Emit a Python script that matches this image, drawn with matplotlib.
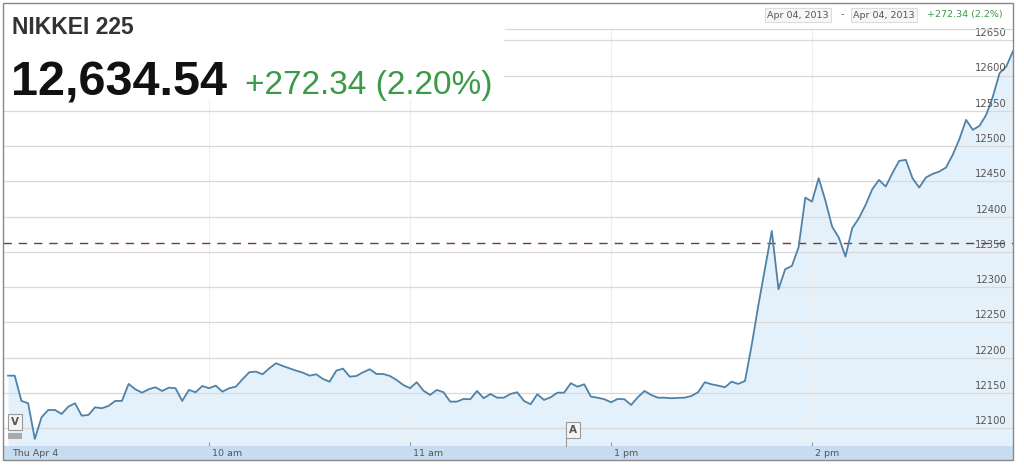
import matplotlib
matplotlib.use("Agg")
import matplotlib.pyplot as plt
from matplotlib.patches import Rectangle
import matplotlib.transforms as mtransforms

# ---------------- data ----------------
index_name = "NIKKEI 225"
last_value = "12,634.54"
change_text = "+272.34 (2.20%)"
range_start = "Apr 04, 2013"
range_end = "Apr 04, 2013"
range_change = "+272.34 (2.2%)"
prev_close = 12362.20

# 2-minute quotes, morning session 09:00-11:30 then afternoon 12:32-15:00
morning_times = [f"{9 + (m // 60):02d}:{m % 60:02d}" for m in range(0, 151, 2)]
afternoon_times = [f"{12 + ((30 + m) // 60):02d}:{(30 + m) % 60:02d}" for m in range(2, 151, 2)]
times = morning_times + afternoon_times

prices = [
    12174.5, 12174.5, 12138.7, 12135.4, 12084.8, 12115.5, 12125.9, 12125.9, 12120.2, 12130.6,
    12135.4, 12117.8, 12118.8, 12129.7, 12128.3, 12131.6, 12138.7, 12138.7, 12162.8, 12155.2,
    12150.4, 12155.2, 12158.1, 12152.8, 12157.5, 12156.7, 12138.7, 12154.3, 12151.0, 12159.9,
    12156.7, 12160.4, 12151.8, 12156.7, 12158.9, 12169.4, 12179.4, 12180.2, 12176.5, 12185.0,
    12192.1, 12188.3, 12185.0, 12181.6, 12178.8, 12174.5, 12176.5, 12169.9, 12166.0, 12181.6,
    12184.5, 12173.1, 12174.1, 12179.4, 12183.6, 12176.9, 12176.9, 12174.1, 12168.4, 12161.3,
    12156.7, 12165.2, 12153.3, 12147.2, 12154.3, 12151.0, 12137.7, 12137.7, 12141.5, 12141.1,
    12152.8, 12142.5, 12148.6, 12143.3, 12143.3, 12148.6,
    12151.0, 12138.7, 12134.0, 12148.2, 12140.1, 12143.9, 12150.4, 12150.4, 12163.8, 12158.9,
    12162.3, 12144.8, 12143.3, 12141.1, 12136.8, 12141.5, 12141.1, 12133.0, 12143.9, 12152.8,
    12147.2, 12143.3, 12143.3, 12142.5, 12143.0, 12143.3, 12145.7, 12151.0, 12165.2, 12162.3,
    12160.4, 12158.1, 12166.0, 12162.8, 12167.0, 12218.0, 12274.8, 12327.0, 12379.7, 12297.0,
    12325.4, 12330.1, 12356.6, 12427.0, 12421.3, 12454.5, 12422.7, 12385.9, 12370.2, 12343.3,
    12383.6, 12397.8, 12416.6, 12438.9, 12452.0, 12442.6, 12461.6, 12479.0, 12480.5, 12454.5,
    12441.2, 12455.4, 12460.6, 12463.9, 12469.6, 12487.6, 12509.9, 12537.2, 12523.0, 12528.7,
    12544.3, 12570.3, 12603.5, 12612.8, 12634.5,
]

x_tick_times = ["09:00", "10:00", "11:00", "13:00", "14:00"]
x_tick_labels = ["Thu Apr 4", "10 am", "11 am", "1 pm", "2 pm"]
y_ticks = [12100, 12150, 12200, 12250, 12300, 12350, 12400, 12450, 12500, 12550, 12600, 12650]


def trading_minute(t):
    h, m = map(int, t.split(":"))
    mins = (h - 9) * 60 + m
    if h >= 12:
        mins -= 60  # lunch break compressed
    return mins


xs = [trading_minute(t) for t in times]

# ---------------- figure ----------------
W, H = 1024, 465
fig = plt.figure(figsize=(W / 100, H / 100), dpi=100)
fig.patch.set_facecolor("white")


def fx(px):
    return px / W


def fy(py):
    return 1 - py / H


plot_top, plot_bot = 29, 446
left_px, right_px = 3, 1014
ax = fig.add_axes([fx(left_px), fy(plot_bot), fx(right_px - left_px), (plot_bot - plot_top) / H])
ax.set_xlim(-1.5, 300.3)
ax.set_ylim(12074.8, 12666)

ax.fill_between(xs, prices, 12000, color="#e4f1fb", lw=0, zorder=1)
ax.plot(xs, prices, color="#4f82a8", lw=1.3, zorder=4)
ax.axhline(prev_close, color="#7a3a3a", lw=1.0, dashes=(6, 5), zorder=3)

for yt in y_ticks:
    ax.axhline(yt, color="#d9d9d9", lw=0.9, zorder=2)
    ax.text(1007, 0, str(yt), transform=mtransforms.blended_transform_factory(
        fig.transFigure, ax.transData), x=fx(1007), y=yt,
        ha="right", va="bottom", fontsize=7.2, color="#555555",
        family="DejaVu Sans", zorder=5) if False else None
    ax.annotate(str(yt), xy=(fx(1007), yt), xycoords=("figure fraction", "data"),
                xytext=(0, 1.5), textcoords="offset points",
                ha="right", va="bottom", fontsize=7.2, color="#555555",
                family="DejaVu Sans", zorder=5)

tick_x = [trading_minute(t) for t in x_tick_times]
for tx in tick_x[1:]:
    ax.axvline(tx, color="#eeeeee", lw=0.8, zorder=1.5)
ax.set_xticks(tick_x[1:])
ax.set_xticklabels([])
ax.tick_params(axis="x", direction="in", length=3, color="#999999", width=0.8)
ax.set_yticks([])
for s in ax.spines.values():
    s.set_visible(False)
ax.patch.set_alpha(0)

# x-axis band
band = fig.add_axes([fx(left_px), fy(460), fx(right_px - left_px), 14 / H])
band.set_xlim(ax.get_xlim())
band.set_ylim(0, 1)
band.set_facecolor("#c7dcf1")
band.set_xticks([])
band.set_yticks([])
for s in band.spines.values():
    s.set_visible(False)
for tx, lab in zip(tick_x, x_tick_labels):
    band.text(tx + (1.2 if tx == 0 else 0.9), 0.45, lab, ha="left", va="center",
              fontsize=6.8, color="#555555", family="DejaVu Sans")

# white header area covering grid
fig.patches.append(Rectangle((fx(4), fy(100)), fx(500), 96 / H, transform=fig.transFigure,
                             facecolor="white", edgecolor="none", zorder=1))
# header strip line at top of plot
fig.add_artist(plt.Line2D([fx(505), fx(1013)], [fy(29), fy(29)], color="#d9d9d9", lw=0.9))

# outer frame
fig.add_artist(Rectangle((fx(3), fy(460)), fx(1010), 457 / H, transform=fig.transFigure,
                         facecolor="none", edgecolor="#888888", lw=1.0, zorder=6))

# titles
fig.text(fx(12), fy(27), index_name, ha="left", va="center", fontsize=16.5,
         fontweight="bold", color="#333333", family="Liberation Sans", zorder=7)
fig.text(fx(11), fy(95), last_value, ha="left", va="baseline", fontsize=35,
         fontweight="bold", color="#111111", family="Liberation Sans", zorder=7)
fig.text(fx(245), fy(94), change_text, ha="left", va="baseline", fontsize=24,
         color="#3a9a45", family="Liberation Sans", zorder=7)

# date range header
box = dict(boxstyle="square,pad=0.25", facecolor="#f7f7f7", edgecolor="#dddddd", lw=0.8)
fig.text(fx(767), fy(15), range_start, ha="left", va="center", fontsize=6.8,
         color="#555555", family="DejaVu Sans", bbox=box, zorder=7)
fig.text(fx(842), fy(15), "-", ha="center", va="center", fontsize=6.8,
         color="#555555", family="DejaVu Sans", zorder=7)
fig.text(fx(853), fy(15), range_end, ha="left", va="center", fontsize=6.8,
         color="#555555", family="DejaVu Sans", bbox=box, zorder=7)
fig.text(fx(927), fy(15), range_change, ha="left", va="center", fontsize=6.8,
         color="#3a9a45", family="DejaVu Sans", zorder=7)

# event flags
flag_box = dict(boxstyle="square,pad=0.25", facecolor="#f4f4f4", edgecolor="#999999", lw=0.8)
fig.text(fx(15), fy(422), "V", ha="center", va="center", fontsize=7.5, fontweight="bold",
         color="#555555", family="DejaVu Sans", bbox=flag_box, zorder=7)
fig.add_artist(Rectangle((fx(8), fy(439)), fx(14), 6 / H, transform=fig.transFigure,
                         facecolor="#aaaaaa", edgecolor="none", zorder=6))
fig.add_artist(plt.Line2D([fx(566), fx(566)], [fy(438), fy(446)], color="#999999", lw=0.8))
fig.text(fx(573), fy(430), "A", ha="center", va="center", fontsize=7.5, fontweight="bold",
         color="#555555", family="DejaVu Sans", bbox=flag_box, zorder=7)

fig.savefig("out.png", dpi=100)
